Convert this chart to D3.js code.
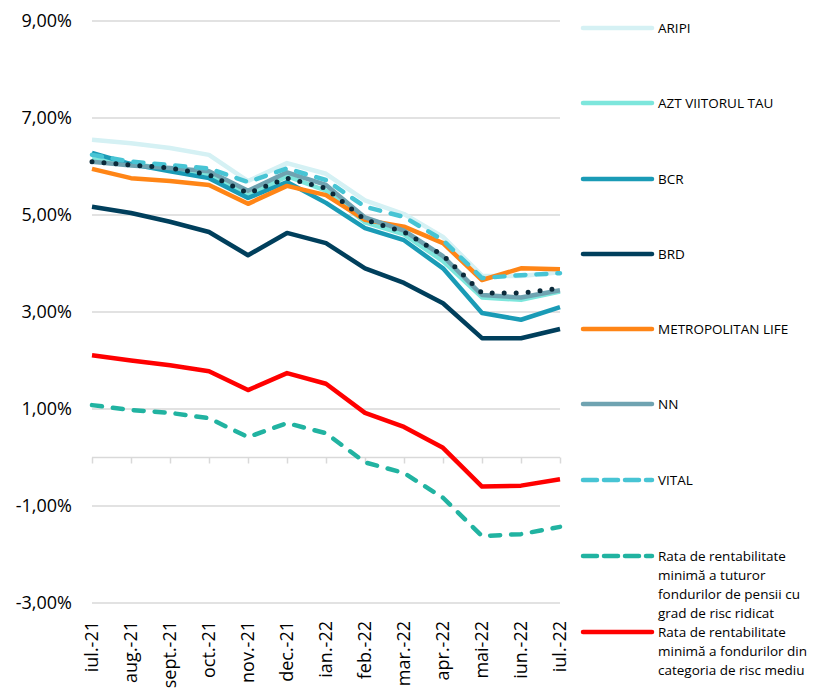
<!DOCTYPE html>
<html>
<head>
<meta charset="utf-8">
<script src="https://cdn.jsdelivr.net/npm/d3@7"></script>
<style>
  body { margin: 0; background: #fff; }
  text { font-family: "Open Sans", sans-serif; fill: #000; }
</style>
</head>
<body>
<div id="chart"></div>
<script>
// chart defaults
const width = 813
const height = 688
const left = 92
const right = 560
const yTop = 21
const yBottom = 603

const months = ["iul.-21", "aug.-21", "sept.-21", "oct.-21", "nov.-21", "dec.-21", "ian.-22",
  "feb.-22", "mar.-22", "apr.-22", "mai-22", "iun.-22", "iul.-22"]
const yTicks = [9, 7, 5, 3, 1, -1, -3]

// values in percent
const aripi = [6.55, 6.48, 6.38, 6.24, 5.70, 6.07, 5.85, 5.30, 5.02, 4.55, 3.75, 3.74, 3.82]
const azt = [6.15, 6.05, 5.95, 5.85, 5.40, 5.80, 5.50, 4.85, 4.60, 4.05, 3.30, 3.25, 3.42]
const bcr = [6.28, 6.05, 5.90, 5.76, 5.35, 5.68, 5.25, 4.73, 4.48, 3.90, 2.98, 2.84, 3.10]
const brd = [5.17, 5.04, 4.86, 4.65, 4.17, 4.63, 4.42, 3.90, 3.60, 3.18, 2.46, 2.46, 2.65]
const metropolitan = [5.95, 5.76, 5.70, 5.62, 5.23, 5.60, 5.41, 4.90, 4.76, 4.42, 3.66, 3.90, 3.88]
const nn = [6.10, 6.02, 5.97, 5.90, 5.50, 5.88, 5.62, 4.95, 4.68, 4.15, 3.35, 3.30, 3.45]
const vital = [6.24, 6.10, 6.03, 5.96, 5.68, 5.96, 5.72, 5.17, 4.96, 4.48, 3.70, 3.76, 3.80]
const riscRidicat = [1.08, 0.98, 0.92, 0.81, 0.42, 0.71, 0.50, -0.10, -0.32, -0.83, -1.62, -1.58, -1.43]
const riscMediu = [2.11, 2.00, 1.90, 1.78, 1.39, 1.74, 1.52, 0.92, 0.63, 0.20, -0.60, -0.58, -0.45]
const average = [6.10, 6.03, 5.97, 5.83, 5.45, 5.76, 5.55, 4.90, 4.65, 4.17, 3.39, 3.39, 3.49]

const series = [
  { name: ["ARIPI"], values: aripi, color: "#d5f1f4", dash: null },
  { name: ["AZT VIITORUL TAU"], values: azt, color: "#7de6dc", dash: null },
  { name: ["BCR"], values: bcr, color: "#1a9bb6", dash: null },
  { name: ["BRD"], values: brd, color: "#003f5c", dash: null },
  { name: ["METROPOLITAN LIFE"], values: metropolitan, color: "#ff8516", dash: null },
  { name: ["NN"], values: nn, color: "#6fa3b1", dash: null },
  { name: ["VITAL"], values: vital, color: "#47c4d4", dash: "10 11" },
  { name: ["Rata de rentabilitate", "minimă a tuturor", "fondurilor de pensii cu", "grad de risc ridicat"],
    values: riscRidicat, color: "#21b3a1", dash: "10 11" },
  { name: ["Rata de rentabilitate", "minimă a fondurilor din", "categoria de risc mediu"],
    values: riscMediu, color: "#ff0000", dash: null }
]
const legendY = [28, 103, 179, 254, 329, 404, 480, 556, 632]

const chart = d3.select("#chart")
  .append("svg")
  .attr("width", width)
  .attr("height", height)

const xScale = d3.scalePoint()
  .domain(months)
  .range([left, right])

const yScale = d3.scaleLinear()
  .domain([-3, 9])
  .range([yBottom, yTop])

// gridlines
chart.append("g")
  .selectAll("line")
  .data(yTicks)
  .enter()
  .append("line")
  .attr("x1", left)
  .attr("x2", right)
  .attr("y1", d => yScale(d))
  .attr("y2", d => yScale(d))
  .attr("stroke", "#d9d9d9")
  .attr("stroke-width", 1.5)

// y labels, comma decimals and plain hyphen
chart.append("g")
  .selectAll("text")
  .data(yTicks)
  .enter()
  .append("text")
  .attr("x", 72)
  .attr("y", d => yScale(d))
  .attr("dy", "0.35em")
  .attr("text-anchor", "end")
  .style("font-size", "18px")
  .text(d => d3.format(".2f")(d).replace(".", ",").replace("\u2212", "-") + "%")

// zero axis with ticks
const xAxis = d3.axisBottom(xScale).tickSize(6).tickFormat("")
const axisG = chart.append("g")
  .attr("transform", "translate(0," + yScale(0) + ")")
  .call(xAxis)
axisG.select(".domain").attr("stroke", "#d9d9d9").attr("stroke-width", 1.5)
  .attr("d", "M" + left + ",0H" + right)
axisG.selectAll(".tick line").attr("stroke", "#d9d9d9").attr("stroke-width", 1.5)

// x labels at the bottom, rotated
chart.append("g")
  .selectAll("text")
  .data(months)
  .enter()
  .append("text")
  .attr("transform", d => "translate(" + (xScale(d) + 6) + "," + 621 + ") rotate(-90)")
  .attr("text-anchor", "end")
  .style("font-size", "18px")
  .text(d => d)

const line = d3.line()
  .x((d, i) => xScale(months[i]))
  .y(d => yScale(d))

const drawLine = function (values, color, dash) {
  chart.append("path")
    .datum(values)
    .attr("d", line)
    .attr("fill", "none")
    .attr("stroke", color)
    .attr("stroke-width", 4.5)
    .attr("stroke-linejoin", "round")
    .attr("stroke-linecap", dash ? "round" : "butt")
    .attr("stroke-dasharray", dash)
}

series.forEach(s => drawLine(s.values, s.color, s.dash))

// dotted line, not in the legend
chart.append("path")
  .datum(average)
  .attr("d", line)
  .attr("fill", "none")
  .attr("stroke", "#0b2a3a")
  .attr("stroke-width", 5)
  .attr("stroke-linecap", "round")
  .attr("stroke-dasharray", "0 12")

// legend
const legend = chart.append("g")
  .selectAll("g")
  .data(series)
  .enter()
  .append("g")
  .attr("transform", (d, i) => "translate(0," + legendY[i] + ")")

legend.append("line")
  .attr("x1", 583)
  .attr("x2", 652)
  .attr("stroke", d => d.color)
  .attr("stroke-width", 4.5)
  .attr("stroke-linecap", "round")
  .attr("stroke-dasharray", d => d.dash ? "14 7" : null)

legend.append("text")
  .style("font-size", "13.5px")
  .selectAll("tspan")
  .data(d => d.name)
  .enter()
  .append("tspan")
  .attr("x", 658)
  .attr("y", (d, i) => i * 19)
  .attr("dy", "0.35em")
  .text(d => d)
</script>
</body>
</html>
